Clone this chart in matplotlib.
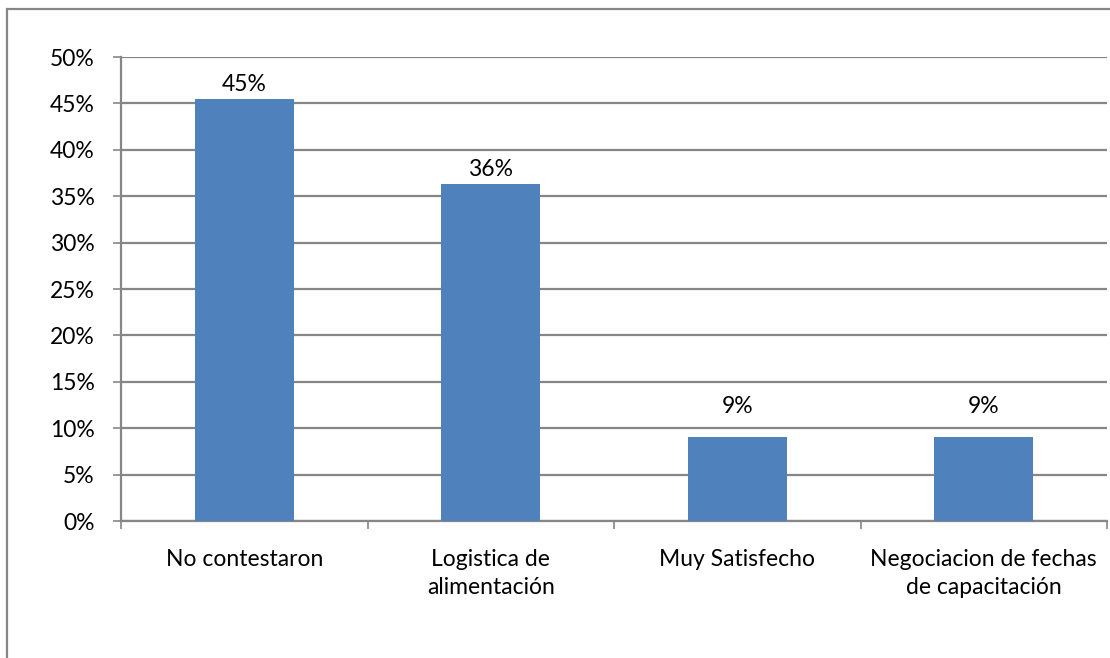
import matplotlib
matplotlib.use('Agg')
import matplotlib.pyplot as plt
from matplotlib.patches import Rectangle
from matplotlib.ticker import PercentFormatter
import math

plt.rcParams['font.family'] = ['Lato', 'DejaVu Sans']

categories = ['No contestaron', 'Logistica de\nalimentación', 'Muy Satisfecho',
              'Negociacion de fechas\nde capacitación']
values = [5 / 11, 4 / 11, 1 / 11, 1 / 11]
labels = ['45%', '36%', '9%', '9%']

BAR = '#4F81BD'
GRID = '#868686'
FS = 16.5
STEP = 0.05

fig = plt.figure(figsize=(11.10, 6.58), dpi=100)
ax = fig.add_axes([121 / 1110, 1 - 521 / 658, (1107 - 121) / 1110, (521 - 57) / 658])

x = range(len(categories))
ax.bar(x, values, width=0.4, color=BAR, zorder=3)
for i, (v, lab) in enumerate(zip(values, labels)):
    # lift the label clear of a gridline sitting just above the bar
    grid_above = math.ceil(v / STEP) * STEP
    y = v + 0.004
    if grid_above - v < 0.015:
        y = grid_above + 0.012
    ax.text(i, y, lab, ha='center', va='bottom', fontsize=FS, color='#000000')

ax.set_xlim(-0.5, len(categories) - 0.5)
ax.set_ylim(0, 0.5)
ax.set_yticks([i * STEP for i in range(11)])
ax.yaxis.set_major_formatter(PercentFormatter(1.0, decimals=0))
ax.yaxis.grid(True, color=GRID, linewidth=1.6, zorder=0)

ax.set_xticks(list(x))
ax.set_xticklabels(categories, fontsize=FS, linespacing=1.45)
ax.set_xticks([i - 0.5 for i in range(len(categories) + 1)], minor=True)
ax.tick_params(axis='x', which='major', length=0, pad=20)
ax.tick_params(axis='x', which='minor', length=6, width=1.2, color=GRID, direction='out')
ax.tick_params(axis='y', length=6, width=1.2, color=GRID, pad=13, labelsize=FS)

for s in ['top', 'right']:
    ax.spines[s].set_visible(False)
for s in ['left', 'bottom']:
    ax.spines[s].set_color(GRID)
    ax.spines[s].set_linewidth(1.6)

fig.patches.append(Rectangle((7 / 1110, -0.1), 1.2, 1 - 9 / 658 + 0.1,
                             transform=fig.transFigure, fill=False,
                             edgecolor=GRID, linewidth=1.6))

fig.savefig('out.png', dpi=100)
